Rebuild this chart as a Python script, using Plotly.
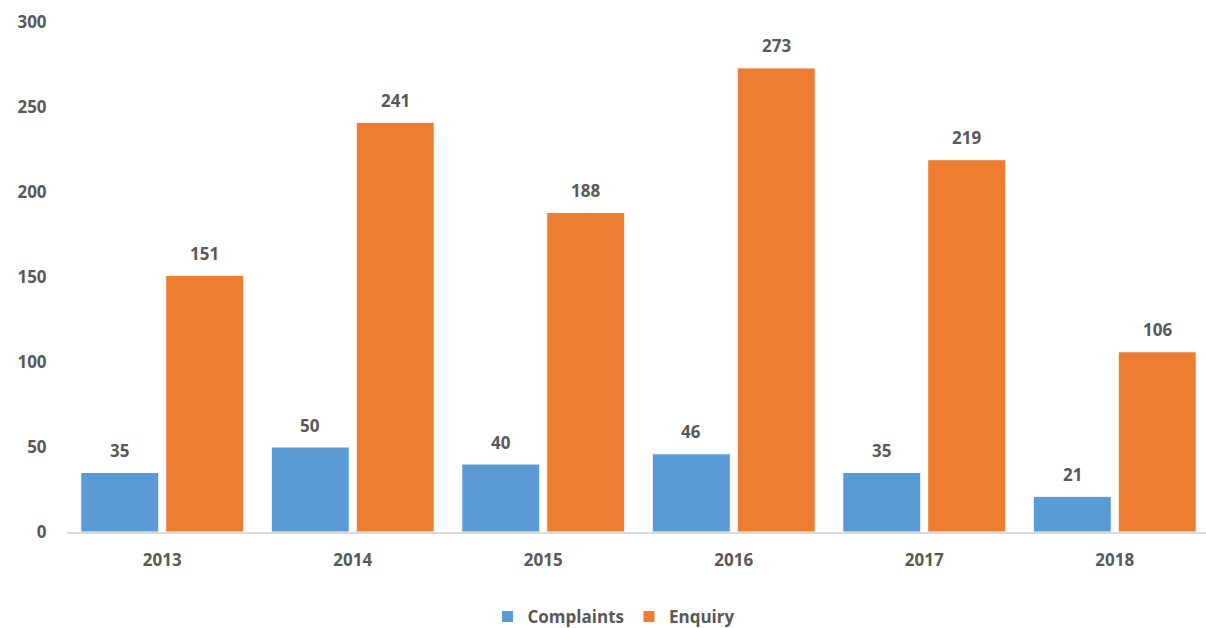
import plotly.graph_objects as go

years = ["2013", "2014", "2015", "2016", "2017", "2018"]
complaints = [35, 50, 40, 46, 35, 21]
enquiry = [151, 241, 188, 273, 219, 106]
y_ticks = [0, 50, 100, 150, 200, 250, 300]

BLUE = "#5B9BD5"
ORANGE = "#ED7D31"
TXT = "#595959"
FONT = "Open Sans"

fig = go.Figure()
fig.add_trace(go.Bar(name="Complaints", x=years, y=complaints, marker=dict(color=BLUE, line=dict(color="white", width=1))))
fig.add_trace(go.Bar(name="Enquiry", x=years, y=enquiry, marker=dict(color=ORANGE, line=dict(color="white", width=1))))

# data labels above bars
plot_w = 1139
n_span = 5.979
slot_px = plot_w / n_span * (1 - 0.108) / 2
for series, sign in ((complaints, -1), (enquiry, 1)):
    for i, v in enumerate(series):
        fig.add_annotation(x=i, y=v, text=f"<b>{v}</b>", showarrow=False,
                           xshift=sign * slot_px / 2, yshift=22,
                           font=dict(family=FONT, size=17, color=TXT))

fig.update_layout(
    width=1206, height=628,
    margin=dict(l=67, r=0, t=22, b=96),
    paper_bgcolor="white", plot_bgcolor="white",
    barmode="group", bargap=0.108, bargroupgap=0.082,
    font=dict(family=FONT, size=17, color=TXT, weight="bold"),
    showlegend=True,
    legend=dict(orientation="h", xref="container", x=614 / 1206, xanchor="center",
                yref="container", y=(628 - 617) / 628, yanchor="middle",
                font=dict(family=FONT, size=17, color=TXT, weight="bold"),
                itemwidth=30),
    xaxis=dict(type="category", range=[-0.5, 5.479], showgrid=False,
               showline=True, linecolor="#D9D9D9", linewidth=1.5,
               ticks="outside", ticklen=12, tickcolor="rgba(0,0,0,0)",
               tickfont=dict(family=FONT, size=17, color=TXT, weight="bold")),
    yaxis=dict(range=[0, 300], tickvals=y_ticks, showgrid=False, zeroline=False,
               showline=False, ticks="outside", ticklen=16, tickcolor="rgba(0,0,0,0)",
               tickfont=dict(family=FONT, size=17, color=TXT, weight="bold")),
)

fig.write_html("out.html")
